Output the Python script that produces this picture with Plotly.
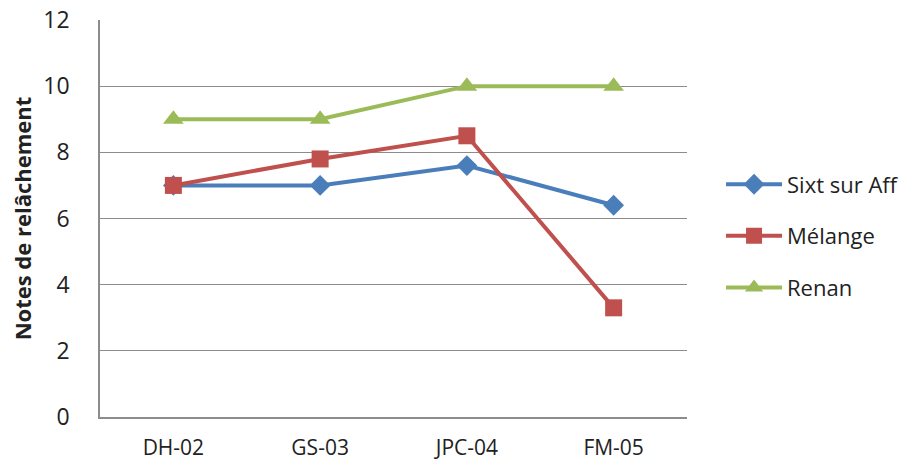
import plotly.graph_objects as go

# Relaxation scores by sample
categories = ["DH-02", "GS-03", "JPC-04", "FM-05"]
sixt_sur_aff = [7.0, 7.0, 7.6, 6.4]
melange = [7.0, 7.8, 8.5, 3.3]
renan = [9.0, 9.0, 10.0, 10.0]

series_names = ["Sixt sur Aff", "Mélange", "Renan"]
y_ticks = [0, 2, 4, 6, 8, 10, 12]

FONT = "Open Sans"
TEXT = "#222222"

fig = go.Figure()
styles = [
    (sixt_sur_aff, "#4A7EBB", "diamond", 16),
    (melange, "#C0504D", "square", 17),
    (renan, "#9BBB59", "triangle-up", 18),
]
for name, (vals, color, symbol, size) in zip(series_names, styles):
    fig.add_trace(go.Scatter(
        x=categories, y=vals, name=name, mode="lines+markers",
        line=dict(color=color, width=4),
        marker=dict(symbol=symbol, size=size, color=color),
        legendgroup=name,
    ))

fig.update_layout(
    width=903, height=465,
    margin=dict(l=100, r=216, t=20, b=48, autoexpand=False),
    paper_bgcolor="white", plot_bgcolor="white",
    font=dict(family=FONT, size=22, color=TEXT),
    legend=dict(
        x=1.058, y=0.456, xanchor="left", yanchor="middle",
        traceorder="grouped", tracegroupgap=20,
        font=dict(family=FONT, size=22, color=TEXT),
        itemwidth=56,
    ),
    showlegend=True,
)
fig.update_xaxes(
    type="category", range=[-0.5, 3.5], automargin=False,
    showline=True, linecolor="#8c8c8c", linewidth=1.5,
    showgrid=False, ticks="", ticklabelstandoff=11,
    tickfont=dict(family=FONT, size=21, color=TEXT),
)
fig.update_yaxes(
    range=[0, 12], tickvals=y_ticks, automargin=False,
    showline=True, linecolor="#8c8c8c", linewidth=1.5,
    showgrid=True, gridcolor="#8c8c8c", gridwidth=1,
    zeroline=False, ticks="", ticklabelstandoff=24,
    tickfont=dict(family=FONT, size=23, color=TEXT),
    title=dict(text="<b>Notes de relâchement</b>", standoff=6,
               font=dict(family=FONT, size=22, color=TEXT)),
)

fig.write_html("out.html")
